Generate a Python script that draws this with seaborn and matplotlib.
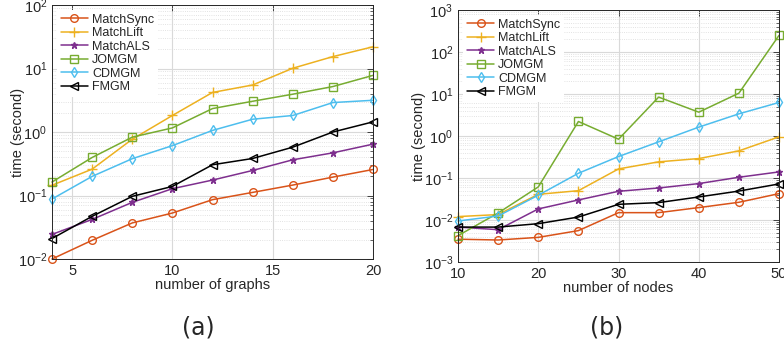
import numpy as np
import pandas as pd
import matplotlib
matplotlib.use("Agg")
import matplotlib.pyplot as plt
import seaborn as sns
from matplotlib.ticker import LogLocator, NullFormatter, FixedLocator

# ---- data ----
methods = ["MatchSync", "MatchLift", "MatchALS", "JOMGM", "CDMGM", "FMGM"]
colors = ["#D95319", "#EDB120", "#7E2F8E", "#77AC30", "#4DBEEE", "#000000"]
markers = ["o", "+", "*", "s", "d", "<"]

graphs_x = [4, 6, 8, 10, 12, 14, 16, 18, 20]
a_matchsync = [0.010, 0.0197, 0.037, 0.053, 0.086, 0.112, 0.146, 0.195, 0.257]
a_matchlift = [0.145, 0.26, 0.77, 1.82, 4.2, 5.5, 10.1, 15.4, 22.0]
a_matchals = [0.0244, 0.042, 0.078, 0.128, 0.175, 0.248, 0.365, 0.47, 0.644]
a_jomgm = [0.163, 0.397, 0.83, 1.16, 2.34, 3.05, 3.94, 5.2, 7.8]
a_cdmgm = [0.088, 0.20, 0.38, 0.61, 1.06, 1.59, 1.82, 2.91, 3.16]
a_fmgm = [0.021, 0.047, 0.097, 0.139, 0.305, 0.383, 0.577, 1.0, 1.445]

nodes_x = [10, 15, 20, 25, 30, 35, 40, 45, 50]
b_matchsync = [0.0035, 0.00335, 0.00387, 0.0056, 0.015, 0.015, 0.0198, 0.0265, 0.0426]
b_matchlift = [0.0121, 0.0135, 0.041, 0.050, 0.165, 0.243, 0.291, 0.444, 0.957]
b_matchals = [0.0068, 0.0059, 0.0184, 0.0301, 0.0484, 0.058, 0.0738, 0.1045, 0.14]
b_jomgm = [0.00425, 0.0147, 0.0615, 2.22, 0.84, 8.45, 3.7, 10.5, 250.0]
b_cdmgm = [0.0095, 0.0125, 0.039, 0.13, 0.325, 0.728, 1.63, 3.38, 6.3]
b_fmgm = [0.0068, 0.0068, 0.0082, 0.0118, 0.0237, 0.026, 0.0355, 0.049, 0.0724]

series_a = [a_matchsync, a_matchlift, a_matchals, a_jomgm, a_cdmgm, a_fmgm]
series_b = [b_matchsync, b_matchlift, b_matchals, b_jomgm, b_cdmgm, b_fmgm]

sns.set_style("white")
plt.rcParams["font.family"] = ["Liberation Sans", "DejaVu Sans"]
plt.rcParams["mathtext.fontset"] = "dejavusans"

fig = plt.figure(figsize=(7.84, 3.58), dpi=100)
ax1 = fig.add_axes([0.0663, 0.2765, 0.4095, 0.7095])
ax2 = fig.add_axes([0.5842, 0.268, 0.4095, 0.704])


def draw(ax, xs, series, xlim, ylim, xticks, xlabel, ylab_x):
    for name, col, mk, ys in zip(methods, colors, markers, series):
        df = pd.DataFrame({"x": xs, "y": ys})
        mfc = col if mk == "*" else "none"
        ms = 5 if mk == "*" else (7 if mk == "+" else 5.5)
        sns.lineplot(data=df, x="x", y="y", ax=ax, color=col, marker=mk,
                     markersize=ms, markerfacecolor=mfc, markeredgecolor=col,
                     markeredgewidth=1.0, linewidth=1.1, label=name,
                     errorbar=None, clip_on=False)
    ax.set_yscale("log")
    ax.set_xlim(*xlim)
    ax.set_ylim(*ylim)
    ax.xaxis.set_major_locator(FixedLocator(xticks))
    ax.yaxis.set_major_locator(LogLocator(base=10, numticks=20))
    ax.yaxis.set_minor_locator(LogLocator(base=10, subs=np.arange(2, 10), numticks=20))
    ax.yaxis.set_minor_formatter(NullFormatter())
    ax.grid(True, which="major", color="#d9d9d9", linewidth=0.8, linestyle="-")
    ax.grid(True, which="minor", axis="y", color="#d9d9d9", linewidth=0.6, linestyle=":")
    ax.set_axisbelow(True)
    ax.tick_params(axis="both", which="both", direction="in", top=True, right=True,
                   labelsize=10.5, colors="#262626", labelcolor="#262626")
    ax.tick_params(which="major", length=4, width=0.6)
    ax.tick_params(which="minor", length=2, width=0.5)
    for sp in ax.spines.values():
        sp.set_color("#262626")
        sp.set_linewidth(0.7)
    ax.set_xlabel(xlabel, fontsize=10.5, color="#262626", labelpad=0)
    ax.set_ylabel("time (second)", fontsize=10.5, color="#262626")
    ax.yaxis.set_label_coords(ylab_x, 0.5)
    ax.legend(loc="upper left", fontsize=9, frameon=True, facecolor="white",
              edgecolor="none", framealpha=1, handlelength=2.2,
              handletextpad=0.3, labelspacing=0.12, borderpad=0.3,
              borderaxespad=0.4, fancybox=False)


draw(ax1, graphs_x, series_a, (4, 20), (1e-2, 1e2), [5, 10, 15, 20],
     "number of graphs", -0.085)
draw(ax2, nodes_x, series_b, (10, 50), (1e-3, 1e3), [10, 20, 30, 40, 50],
     "number of nodes", -0.10)

fig.text(0.2526, 0.085, "(a)", fontsize=17, ha="center", va="center", family="DejaVu Sans")
fig.text(0.7742, 0.085, "(b)", fontsize=17, ha="center", va="center", family="DejaVu Sans")

fig.savefig("out.png", dpi=100)
